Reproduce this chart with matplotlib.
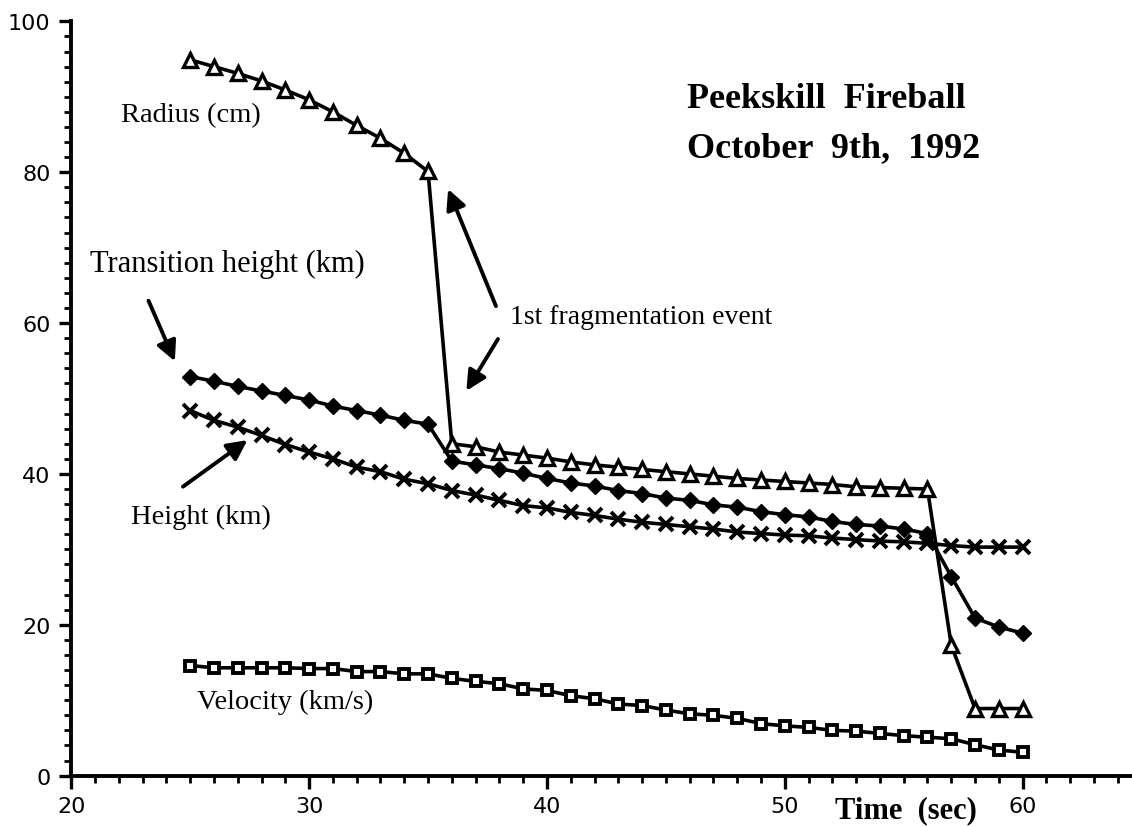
import numpy as np
import matplotlib.pyplot as plt
from matplotlib.ticker import MultipleLocator

# time in seconds
t = np.arange(25, 61)

radius = [94.9, 94.0, 93.1, 92.1, 90.9, 89.6, 88.0, 86.2, 84.5, 82.5, 80.1,
          44.0, 43.6, 42.9, 42.5, 42.1, 41.6, 41.2, 40.9, 40.6, 40.3, 40.0,
          39.7, 39.4, 39.2, 39.0, 38.8, 38.6, 38.3, 38.2, 38.1, 38.0,
          17.3, 8.9, 8.9, 8.9]
trans_height = [52.9, 52.3, 51.6, 51.0, 50.4, 49.8, 49.0, 48.4, 47.8, 47.1, 46.6,
                41.7, 41.2, 40.7, 40.1, 39.4, 38.8, 38.4, 37.8, 37.4, 36.8, 36.5,
                35.9, 35.6, 35.0, 34.6, 34.3, 33.7, 33.3, 33.1, 32.7, 32.1,
                26.4, 20.9, 19.7, 18.9]
height = [48.4, 47.1, 46.2, 45.1, 43.9, 42.9, 42.0, 40.9, 40.3, 39.3, 38.7,
          37.8, 37.2, 36.5, 35.8, 35.5, 34.9, 34.5, 34.0, 33.6, 33.3, 33.0,
          32.7, 32.3, 32.1, 31.9, 31.8, 31.5, 31.3, 31.1, 31.0, 30.8,
          30.5, 30.3, 30.3, 30.3]
velocity = [14.6, 14.3, 14.3, 14.3, 14.3, 14.2, 14.2, 13.8, 13.8, 13.5, 13.5,
            12.9, 12.5, 12.2, 11.5, 11.3, 10.6, 10.2, 9.5, 9.3, 8.7, 8.2,
            8.0, 7.6, 6.9, 6.6, 6.4, 6.0, 5.9, 5.6, 5.3, 5.1,
            4.9, 4.1, 3.4, 3.1]

serif = 'Liberation Serif'

fig = plt.figure(figsize=(11.32, 8.28), dpi=100)
ax = fig.add_axes([0.063, 0.062, 0.937, 0.911])

ax.plot(t, radius, color='black', lw=2.6, marker='^', ms=9.5, mfc='white',
        mec='black', mew=2.4)
ax.plot(t, trans_height, color='black', lw=2.6, marker='D', ms=8, mfc='black',
        mec='black')
ax.plot(t, height, color='black', lw=2.6, marker='x', ms=10, mew=2.8)
ax.plot(t, velocity, color='black', lw=2.6, marker='s', ms=7.5, mfc='white',
        mec='black', mew=2.8)

ax.set_xlim(20, 64.6)
ax.set_ylim(0, 100)
ax.xaxis.set_major_locator(MultipleLocator(10))
ax.xaxis.set_minor_locator(MultipleLocator(1))
ax.yaxis.set_major_locator(MultipleLocator(20))
ax.yaxis.set_minor_locator(MultipleLocator(2))
ax.spines['top'].set_visible(False)
ax.spines['right'].set_visible(False)
ax.spines['left'].set_linewidth(2.8)
ax.spines['bottom'].set_linewidth(2.8)
ax.tick_params(which='major', direction='out', length=9, width=2.4,
               labelsize=16, pad=6)
ax.tick_params(which='minor', direction='out', length=5, width=2.0)

# labels
ax.text(22.1, 87.6, 'Radius (cm)', fontsize=20.5, family=serif, va='center')
ax.text(20.8, 67.9, 'Transition height (km)', fontsize=22, family=serif,
        va='center')
ax.text(22.5, 34.4, 'Height (km)', fontsize=20.5, family=serif, va='center')
ax.text(25.3, 9.8, 'Velocity (km/s)', fontsize=20.5, family=serif, va='center')
ax.text(38.45, 60.9, '1st fragmentation event', fontsize=20, family=serif,
        va='center')
ax.text(45.9, 89.8, 'Peekskill  Fireball', fontsize=26, family=serif,
        weight='bold', va='center')
ax.text(45.9, 83.2, 'October  9th,  1992', fontsize=26, family=serif,
        weight='bold', va='center')
ax.text(0.72, -0.045, 'Time  (sec)', transform=ax.transAxes, fontsize=22,
        family=serif, weight='bold', va='center')

arrow = dict(arrowstyle='-|>', color='black', lw=2.8, mutation_scale=30)
ax.annotate('', xy=(24.4, 54.6), xytext=(23.2, 63.3), arrowprops=arrow)
ax.annotate('', xy=(27.5, 44.7), xytext=(24.6, 38.1), arrowprops=arrow)
ax.annotate('', xy=(35.8, 78.1), xytext=(37.9, 61.9), arrowprops=arrow)
ax.annotate('', xy=(36.55, 50.7), xytext=(38.0, 58.2), arrowprops=arrow)

fig.savefig('out.png', dpi=100)
